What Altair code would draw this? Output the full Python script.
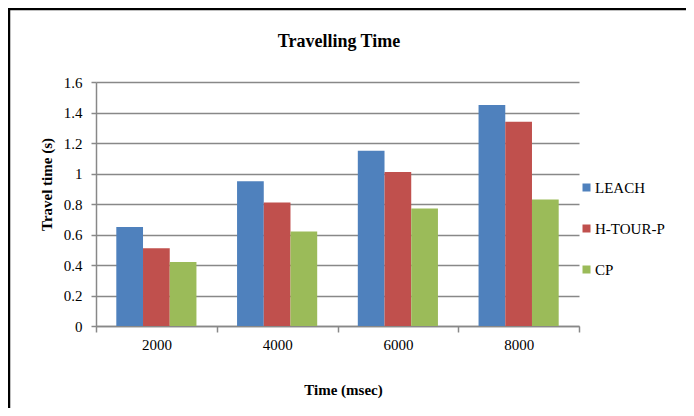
import altair as alt
import pandas as pd

categories = ["2000", "4000", "6000", "8000"]
series = ["LEACH", "H-TOUR-P", "CP"]
leach = [0.65, 0.95, 1.15, 1.45]
htourp = [0.51, 0.81, 1.01, 1.34]
cp = [0.42, 0.62, 0.77, 0.83]
colors = ["#4F81BD", "#C0504D", "#9BBB59"]
y_ticks = [0, 0.2, 0.4, 0.6, 0.8, 1.0, 1.2, 1.4, 1.6]
chart_title = "Travelling Time"

rows = []
for name, vals in zip(series, [leach, htourp, cp]):
    for c, v in zip(categories, vals):
        rows.append({"time": c, "series": name, "value": v})
df = pd.DataFrame(rows)

FONT = "Liberation Serif"
GRID = "#888888"

bars = alt.Chart(df).mark_bar().encode(
    x=alt.X("time:N", sort=categories,
            scale=alt.Scale(paddingInner=0, paddingOuter=0),
            axis=alt.Axis(title="Time (msec)", labelAngle=0, tickBand="extent",
                          tickSize=6, labelPadding=5, grid=False,
                          domainColor=GRID, tickColor=GRID, domainWidth=1.5, tickWidth=1.5,
                          titleX=247, titleY=68, titleBaseline="alphabetic", titleAlign="center")),
    xOffset=alt.XOffset("series:N", sort=series,
                        scale=alt.Scale(paddingInner=0, paddingOuter=0.76)),
    y=alt.Y("value:Q", scale=alt.Scale(domain=[0, 1.6], nice=False),
            axis=alt.Axis(title="Travel time (s)", values=y_ticks, format="~g",
                          tickSize=5, labelPadding=9, grid=True,
                          gridColor=GRID, gridWidth=1.5, domainColor=GRID, tickColor=GRID,
                          domainWidth=1.5, tickWidth=1.5,
                          titleX=-45, titleY=102, titleAngle=270, titleAlign="center",
                          titleBaseline="alphabetic")),
    color=alt.Color("series:N", sort=series,
                    scale=alt.Scale(domain=series, range=colors),
                    legend=alt.Legend(title=None, orient="none", legendX=483, legendY=98,
                                      symbolType="square", symbolSize=64, symbolStrokeWidth=0,
                                      labelFont=FONT, labelFontSize=15, labelColor="black",
                                      labelOffset=1, rowPadding=25, padding=0)),
)

one = pd.DataFrame({"a": [0]})
title_mark = alt.Chart(one).mark_text(
    font=FONT, fontSize=18, fontWeight="bold", color="black",
    align="center", baseline="alphabetic"
).encode(x=alt.value(243), y=alt.value(-35), text=alt.value(chart_title))

border_top = alt.Chart(one).mark_rule(color="black", strokeWidth=2.5).encode(
    x=alt.value(-88), x2=alt.value(590), y=alt.value(-73)
)
border_left = alt.Chart(one).mark_rule(color="black", strokeWidth=2.5).encode(
    x=alt.value(-87), y=alt.value(-74), y2=alt.value(326)
)

chart = alt.layer(bars, title_mark, border_top, border_left).properties(
    width=483, height=244,
    autosize=alt.AutoSizeParams(type="none"),
    padding={"left": 88, "top": 74, "right": 107, "bottom": 82},
).configure(
    background="white",
    view=alt.ViewConfig(stroke=None),
    axis=alt.AxisConfig(
        labelFont=FONT, labelFontSize=15, labelColor="black",
        titleFont=FONT, titleFontSize=15, titleFontWeight="bold", titleColor="black",
    ),
)

chart.save("out.html", embed_options={"renderer": "svg", "actions": False})
